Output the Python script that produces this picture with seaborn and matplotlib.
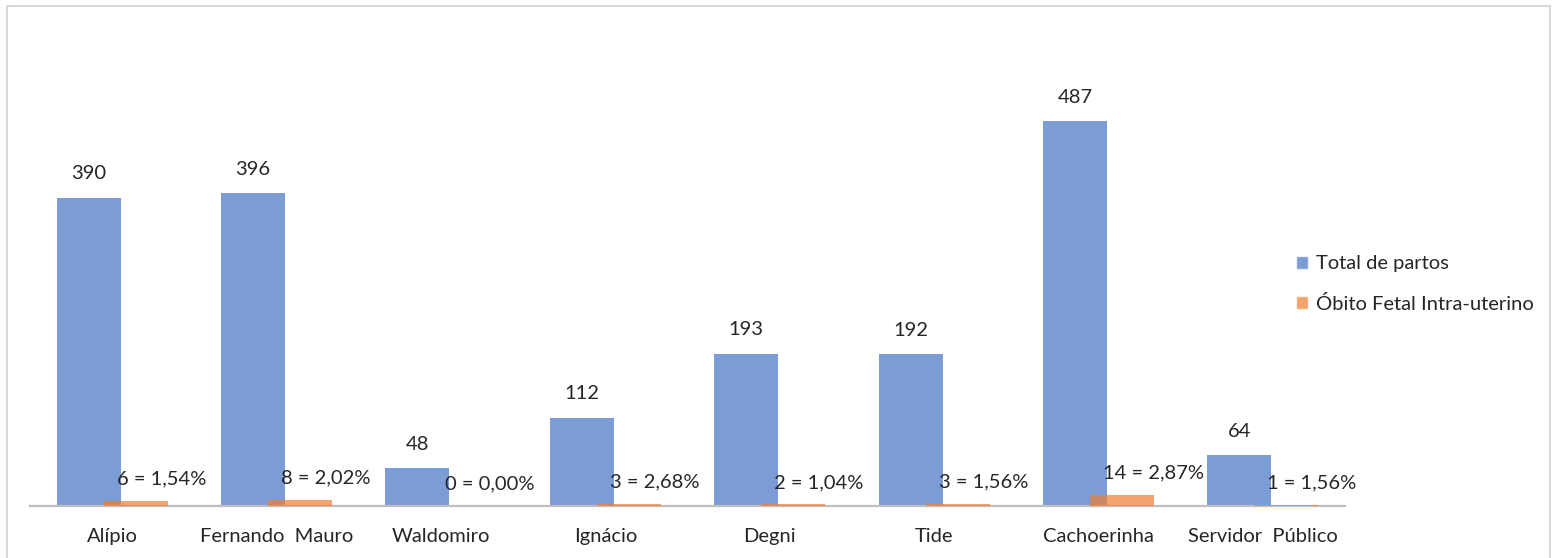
import matplotlib
matplotlib.use('Agg')
import matplotlib.pyplot as plt
import seaborn as sns
import pandas as pd

# data
unidades = ['Alípio', 'Fernando  Mauro', 'Waldomiro', 'Ignácio', 'Degni',
            'Tide', 'Cachoerinha', 'Servidor  Público']
total_partos = [390, 396, 48, 112, 193, 192, 487, 64]
obitos = [6, 8, 0, 3, 2, 3, 14, 1]
obitos_pct = ['1,54%', '2,02%', '0,00%', '2,68%', '1,04%', '1,56%', '2,87%', '1,56%']
series = ['Total de partos', 'Óbito Fetal Intra-uterino']

df = pd.DataFrame({
    'Unidade': unidades * 2,
    'Valor': total_partos + obitos,
    'Serie': [series[0]] * len(unidades) + [series[1]] * len(unidades),
})

sns.set_theme(style='white')
plt.rcParams['font.family'] = ['Lato', 'DejaVu Sans']

fig = plt.figure(figsize=(15.59, 5.58), dpi=100)
ax = fig.add_axes([30 / 1559, 52 / 558, 1315 / 1559, 466 / 558])

palette = {series[0]: '#4472C4', series[1]: '#ED7D31'}
sns.barplot(data=df, x='Unidade', y='Valor', hue='Serie', order=unidades,
            hue_order=series, palette=palette, width=0.68, dodge=True,
            alpha=0.7, legend=True, ax=ax, saturation=1)

# Excel-style overlapping bars: widen and pull towards the category centre
bar_w = 0.39
shift = 0.143
n = len(unidades)
for k, p in enumerate(ax.patches[:2 * n]):
    cx = p.get_x() + p.get_width() / 2
    i = round(cx)
    new_c = i - shift if k < n else i + shift
    p.set_width(bar_w)
    p.set_x(new_c - bar_w / 2)
    p.set_linewidth(0)
    if k >= n:
        p.set_zorder(3)

fs = 14.5
for i, v in enumerate(total_partos):
    ax.annotate(str(v), (i - shift, v), xytext=(0, 24), textcoords='offset pixels',
                ha='center', va='center', fontsize=fs, color='#262626')
for i, (v, pct) in enumerate(zip(obitos, obitos_pct)):
    ax.annotate(f'{v} = {pct}', (i + shift, v), xytext=(-19, 22),
                textcoords='offset pixels', ha='left', va='center',
                fontsize=fs, color='#262626')

ax.set_xlim(-0.5, n - 0.5)
ax.set_ylim(0, 590)
ax.set_xlabel('')
ax.set_ylabel('')
ax.set_yticks([])
ax.tick_params(axis='x', length=0, pad=16, labelsize=14.5, labelcolor='#262626')
for s in ['left', 'right', 'top']:
    ax.spines[s].set_visible(False)
ax.spines['bottom'].set_color('#BFBFBF')
ax.spines['bottom'].set_linewidth(1.6)

handles, labels = ax.get_legend_handles_labels()
ax.legend(handles, labels, loc='center left', bbox_to_anchor=(1278 / 1559, 1 - 284 / 558),
          bbox_transform=fig.transFigure, frameon=False, fontsize=fs,
          handlelength=0.6, handleheight=0.6, handletextpad=0.4, labelspacing=1.1,
          labelcolor='#262626')

# chart-area border
fig.patches.append(plt.Rectangle((7 / 1559, -0.2), 1543 / 1559, 1.2 - 6 / 558,
                                 transform=fig.transFigure, fill=False,
                                 edgecolor='#D9D9D9', linewidth=1.5))

fig.savefig('out.png', dpi=100)
